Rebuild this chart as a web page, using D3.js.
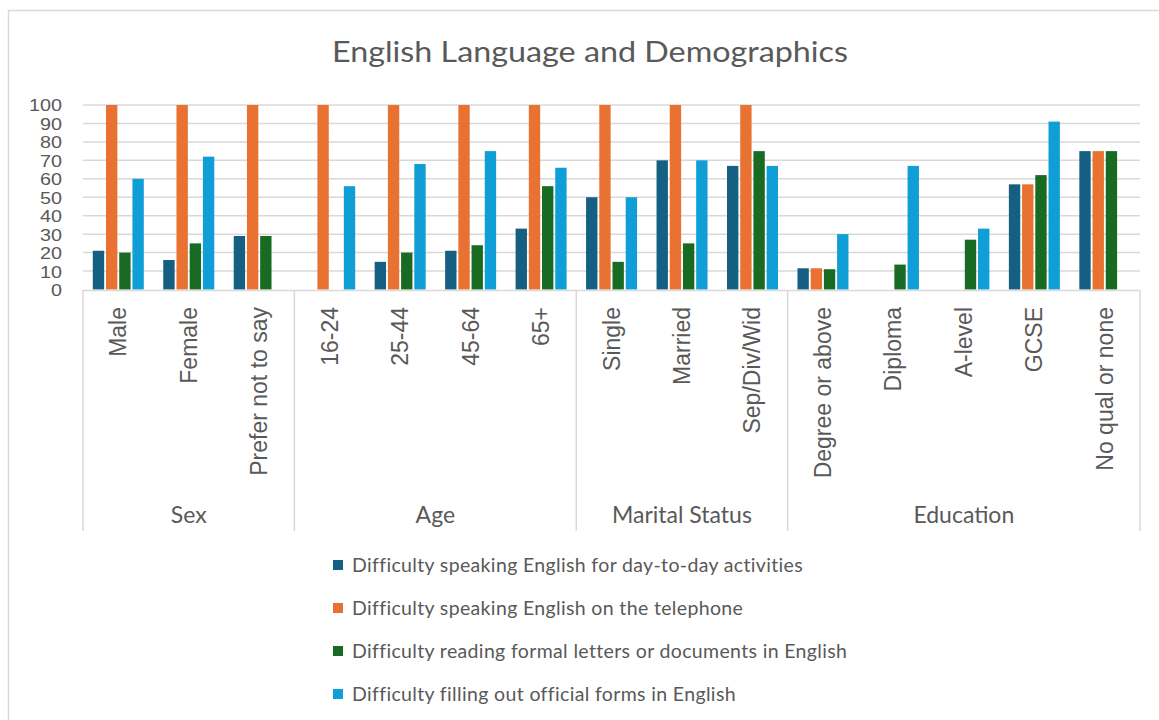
<!DOCTYPE html>
<html><head><meta charset="utf-8">
<script src="https://cdn.jsdelivr.net/npm/d3@7"></script>
<style>body{margin:0;background:#fff}svg{display:block}</style>
</head><body>
<svg id="c" width="1159" height="720"></svg>
<script>
const title = "English Language and Demographics";
const categories = ["Male","Female","Prefer not to say","16-24","25-44","45-64","65+","Single","Married","Sep/Div/Wid","Degree or above","Diploma","A-level","GCSE","No qual or none"];
const groups = [{name:"Sex",count:3},{name:"Age",count:4},{name:"Marital Status",count:3},{name:"Education",count:5}];
const seriesNames = ["Difficulty speaking English for day-to-day activities","Difficulty speaking English on the telephone","Difficulty reading formal letters or documents in English","Difficulty filling out official forms in English"];
const dayToDay  = [21,16,29, 0,15,21,33, 50,70,67, 11.5,0,0,57,75];
const telephone = [100,100,100, 100,100,100,100, 100,100,100, 11.5,0,0,57,75];
const letters   = [20,25,29, 0,20,24,56, 15,25,75, 11,13.5,27,62,75];
const forms     = [60,72,0, 56,68,75,66, 50,70,67, 30,67,33,91,0];
const yTicks = [0,10,20,30,40,50,60,70,80,90,100];
const colors = ["#156082","#E97132","#196B24","#0F9ED5"];

const series = [dayToDay, telephone, letters, forms];
const svg = d3.select("#c");
const grey = "#595959", line = "#d9d9d9";

svg.append("rect").attr("x",8.5).attr("y",10.5).attr("width",1170).attr("height",730)
  .attr("fill","#fff").attr("stroke",line).attr("stroke-width",1.5);

const L = 83, R = 1140, T = 105, B = 289.5;
const y = d3.scaleLinear().domain([0,100]).range([B,T]);
const x0 = d3.scaleBand().domain(categories).range([L,R]);
const x1 = d3.scaleBand().domain(d3.range(4)).range([9.8,60.8]).paddingInner(0.14);

// title
svg.append("text").attr("x",590).attr("y",62).attr("text-anchor","middle")
  .attr("font-family","Lato, 'Open Sans', sans-serif").attr("font-size",29).attr("fill",grey)
  .attr("textLength",516).attr("lengthAdjust","spacingAndGlyphs").text(title);

// gridlines
svg.append("g").selectAll("line").data(yTicks.filter(d=>d>0)).join("line")
  .attr("x1",L).attr("x2",R).attr("y1",d=>y(d)).attr("y2",d=>y(d))
  .attr("stroke",line).attr("stroke-width",1.5);

// y axis labels
const yAxis = d3.axisLeft(y).tickValues(yTicks).tickSize(0).tickPadding(0);
const gy = svg.append("g").attr("transform","translate(62,0)").call(yAxis);
gy.select(".domain").remove();
gy.selectAll("text").attr("font-family","'Liberation Sans', Arial, sans-serif").attr("font-size",16.5).attr("fill",grey).attr("dy","0.36em")
  .attr("textLength",d=>String(d).length*11).attr("lengthAdjust","spacingAndGlyphs");

// bars
const cg = svg.append("g").selectAll("g").data(categories).join("g")
  .attr("transform",d=>`translate(${x0(d)},0)`);
cg.selectAll("rect").data((d,i)=>series.map((s,k)=>({k,v:s[i]}))).join("rect")
  .attr("x",d=>x1(d.k)).attr("width",x1.bandwidth())
  .attr("y",d=>y(d.v)).attr("height",d=>y(0)-y(d.v))
  .attr("fill",d=>colors[d.k]);

// category axis line
svg.append("line").attr("x1",L).attr("x2",R).attr("y1",290.5).attr("y2",290.5).attr("stroke",line).attr("stroke-width",1.5);

// category labels
const xAxis = d3.axisBottom(x0).tickSize(0).tickPadding(0);
const gx = svg.append("g").attr("transform","translate(0,307)").call(xAxis);
gx.select(".domain").remove();
gx.selectAll("text").attr("font-family","'Liberation Sans', Arial, sans-serif").attr("font-size",23).attr("fill",grey)
  .attr("text-anchor","end").attr("transform","rotate(-90)").attr("x",0).attr("y",0).attr("dy","0.35em");

// group dividers and labels
let idx = 0;
const bounds = [0];
groups.forEach(g=>{ idx += g.count; bounds.push(idx); });
svg.append("g").selectAll("line").data(bounds).join("line")
  .attr("x1",d=>d<categories.length ? x0(categories[d]) : R)
  .attr("x2",d=>d<categories.length ? x0(categories[d]) : R)
  .attr("y1",290).attr("y2",531).attr("stroke",line).attr("stroke-width",1.5);
svg.append("g").selectAll("text").data(groups).join("text")
  .attr("x",(g,i)=>{const a=x0(categories[bounds[i]]); const b = bounds[i+1]<categories.length? x0(categories[bounds[i+1]]) : R; return (a+b)/2;})
  .attr("y",523).attr("text-anchor","middle")
  .attr("font-family","Lato, 'Open Sans', sans-serif").attr("font-size",23).attr("fill",grey)
  .text(g=>g.name);

// legend
const lg = svg.append("g").selectAll("g").data(seriesNames).join("g")
  .attr("transform",(d,i)=>`translate(333,${565+i*43})`);
lg.append("rect").attr("x",0).attr("y",-5).attr("width",10).attr("height",10).attr("fill",(d,i)=>colors[i]);
lg.append("text").attr("x",19).attr("y",0).attr("dy","0.35em")
  .attr("font-family","Lato, 'Open Sans', sans-serif").attr("font-size",19.5).attr("letter-spacing",0.35).attr("fill",grey).text(d=>d);
</script>
</body></html>
